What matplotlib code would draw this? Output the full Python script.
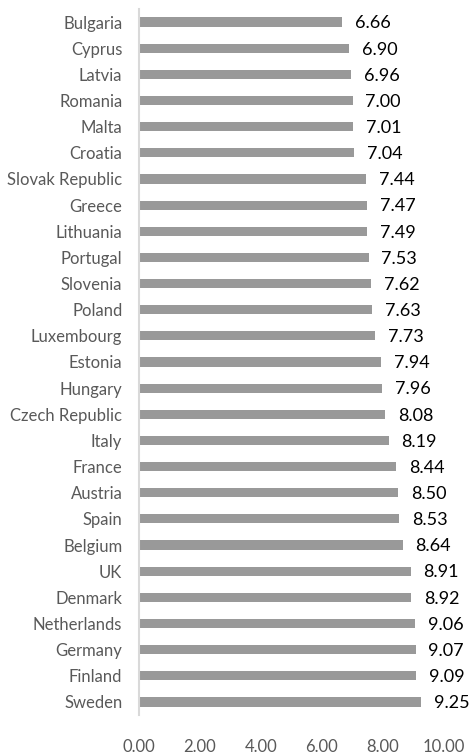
import matplotlib
matplotlib.use("Agg")
import matplotlib.pyplot as plt

# Countries (top to bottom) and their scores
countries = ["Bulgaria", "Cyprus", "Latvia", "Romania", "Malta", "Croatia",
             "Slovak Republic", "Greece", "Lithuania", "Portugal", "Slovenia",
             "Poland", "Luxembourg", "Estonia", "Hungary", "Czech Republic",
             "Italy", "France", "Austria", "Spain", "Belgium", "UK", "Denmark",
             "Netherlands", "Germany", "Finland", "Sweden"]
scores = [6.66, 6.90, 6.96, 7.00, 7.01, 7.04, 7.44, 7.47, 7.49, 7.53, 7.62,
          7.63, 7.73, 7.94, 7.96, 8.08, 8.19, 8.44, 8.50, 8.53, 8.64, 8.91,
          8.92, 9.06, 9.07, 9.09, 9.25]
xticks = [0, 2, 4, 6, 8, 10]

plt.rcParams['font.family'] = ['Lato', 'DejaVu Sans']

fig = plt.figure(figsize=(4.7, 7.54), dpi=100)
ax = fig.add_axes([139 / 470, 1 - 715 / 754, 305 / 470, 706 / 754])

pos = list(range(len(countries)))
ax.barh(pos, scores, height=0.35, color="#999999")
ax.set_ylim(len(countries) - 0.5, -0.5)
ax.set_xlim(0, 10)

# value labels to the right of each bar
for p, v in zip(pos, scores):
    ax.text(v + 0.42, p + 0.05, f"{v:.2f}", va="center", ha="left", fontsize=13,
            color="black", clip_on=False)

ax.set_yticks(pos)
ax.set_yticklabels(countries, fontsize=12, color="#595959")
ax.set_xticks(xticks)
ax.set_xticklabels([f"{t:.2f}" for t in xticks], fontsize=12, color="#595959")
ax.tick_params(axis="both", length=0)
ax.tick_params(axis="y", pad=12)
ax.tick_params(axis="x", pad=17)

for s in ["top", "right", "bottom"]:
    ax.spines[s].set_visible(False)
ax.spines["left"].set_color("#d9d9d9")
ax.spines["left"].set_linewidth(1.5)

fig.savefig("out.png", dpi=100)
